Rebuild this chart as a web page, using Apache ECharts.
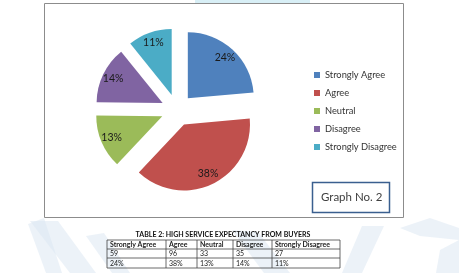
<!DOCTYPE html>
<html>
<head>
<meta charset="utf-8">
<script src="https://cdn.jsdelivr.net/npm/echarts@6/dist/echarts.min.js"></script>
<style>
  html, body { margin: 0; padding: 0; background: #fff; }
  #chart { width: 459px; height: 273px; }
</style>
</head>
<body>
<div id="chart"></div>
<script>
const categories = ['Strongly Agree', 'Agree', 'Neutral', 'Disagree', 'Strongly Disagree'];
const counts = [59, 96, 33, 35, 27];
const percents = ['24%', '38%', '13%', '14%', '11%'];
const colors = ['#4F81BD', '#C0504D', '#9BBB59', '#8064A2', '#4BACC6'];
const tableTitle = 'TABLE 2: HIGH SERVICE EXPECTANCY FROM BUYERS';

const chart = echarts.init(document.getElementById('chart'));

const pieData = categories.map((name, i) => ({
  name: name,
  value: counts[i],
  selected: true,
  itemStyle: { color: colors[i] }
}));

// table drawn as graphic lines + text
const colX = [107, 166, 197, 233, 272, 340];
const rowY = [240, 249, 258, 268];
const tableRows = [categories, counts.map(String), percents];
const tableGraphics = [];
tableGraphics.push({
  type: 'text',
  style: { text: tableTitle, x: 223, y: 234.5, align: 'center', verticalAlign: 'middle',
    font: 'bold 7px Lato', fill: '#111' }
});
rowY.forEach(y => {
  tableGraphics.push({ type: 'line', shape: { x1: colX[0], y1: y, x2: colX[5], y2: y },
    style: { stroke: '#444', lineWidth: 0.8 } });
});
colX.forEach(x => {
  tableGraphics.push({ type: 'line', shape: { x1: x, y1: rowY[0], x2: x, y2: rowY[3] },
    style: { stroke: '#444', lineWidth: 0.8 } });
});
tableRows.forEach((row, r) => {
  row.forEach((txt, c) => {
    tableGraphics.push({
      type: 'text',
      style: { text: txt, x: colX[c] + 3, y: (rowY[r] + rowY[r + 1]) / 2 + 0.5,
        verticalAlign: 'middle', font: (r === 0 ? 'bold ' : '') + '7px Lato', fill: '#222' }
    });
  });
});

// faint watermark strokes of the scanned page
const watermark = [
  [[28, 224], [44, 218], [62, 273], [46, 273]],
  [[30, 221], [58, 221], [96, 273], [70, 273]],
  [[86, 236], [104, 233], [130, 273], [112, 273]],
  [[232, 230], [258, 232], [290, 273], [264, 273]],
  [[362, 226], [384, 226], [362, 273], [342, 273]],
  [[400, 228], [430, 218], [459, 228], [459, 240], [420, 236]],
  [[440, 250], [459, 240], [459, 273], [436, 273]]
].map(pts => ({
  type: 'polygon', z: -10, shape: { points: pts },
  style: { fill: '#dde7f2', opacity: 0.55 }
}));

const option = {
  animation: false,
  backgroundColor: '#fff',
  legend: {
    orient: 'vertical',
    left: 314,
    top: 69,
    padding: 0,
    icon: 'rect',
    itemWidth: 6,
    itemHeight: 6,
    itemGap: 6,
    selectedMode: false,
    data: categories,
    textStyle: { fontFamily: 'Lato', fontSize: 9.3, color: '#333', lineHeight: 12 }
  },
  graphic: [
    { type: 'rect', z: -9, shape: { x: 195, y: 0, width: 115, height: 3 }, style: { fill: '#d8eff6' } },
    ...watermark,
    { type: 'rect', z: -5, shape: { x: 44.5, y: 3.5, width: 359, height: 214 },
      style: { fill: '#fff', stroke: '#8c8c8c', lineWidth: 1 } },
    { type: 'rect', shape: { x: 312.5, y: 182.5, width: 77, height: 30 },
      style: { fill: '#fff', stroke: '#3a5f8f', lineWidth: 1.5 } },
    { type: 'text', style: { text: 'Graph No. 2', x: 321, y: 197.5, verticalAlign: 'middle',
      font: '11.5px Lato', fill: '#404040' } },
    ...tableGraphics
  ],
  series: [
    {
      name: 'slices',
      type: 'pie',
      center: [177, 110],
      radius: [0, 66],
      selectedMode: 'multiple',
      selectedOffset: 16,
      label: { show: false },
      labelLine: { show: false },
      emphasis: { disabled: true },
      data: pieData
    },
    {
      // same slices, transparent, only to push the labels outward
      name: 'labels',
      type: 'pie',
      center: [177, 110],
      radius: [38, 66],
      selectedMode: 'multiple',
      selectedOffset: 16,
      silent: true,
      itemStyle: { color: 'rgba(0,0,0,0)' },
      label: {
        show: true,
        position: 'inside',
        formatter: p => percents[p.dataIndex],
        fontFamily: 'Lato',
        fontSize: 10.5,
        color: '#1a1a1a'
      },
      labelLine: { show: false },
      emphasis: { disabled: true },
      data: categories.map((name, i) => ({ name: name, value: counts[i], selected: true }))
    }
  ]
};

chart.setOption(option);
</script>
</body>
</html>
